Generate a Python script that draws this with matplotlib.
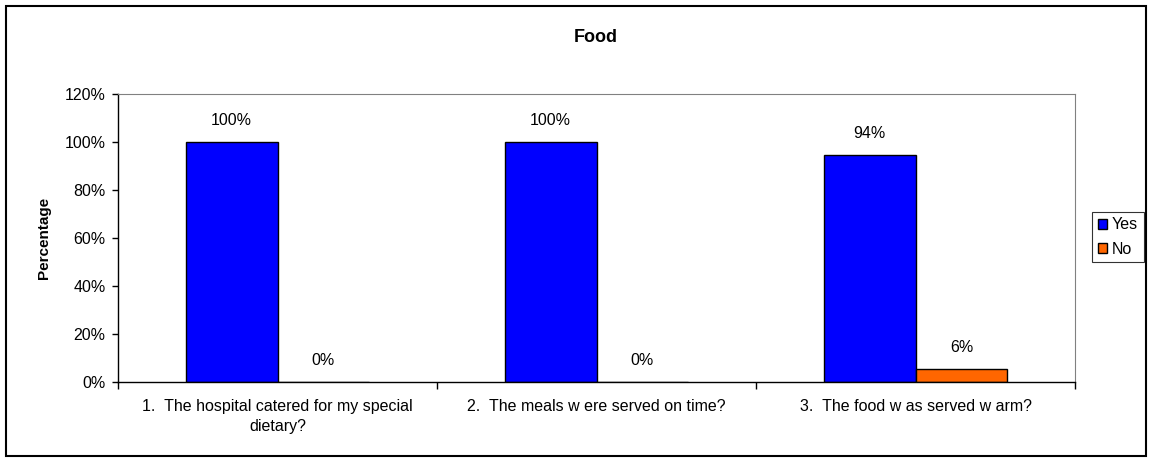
import numpy as np
import matplotlib
matplotlib.use("Agg")
import matplotlib.pyplot as plt
from matplotlib.patches import Rectangle
from matplotlib.ticker import FuncFormatter, MultipleLocator

# data
categories = [
    "1.  The hospital catered for my special\ndietary?",
    "2.  The meals w ere served on time?",
    "3.  The food w as served w arm?",
]
yes_vals = [100, 100, 94.4]
no_vals = [0, 0, 5.6]
series_names = ["Yes", "No"]

plt.rcParams["font.family"] = ["Liberation Sans", "DejaVu Sans"]
FS = 11.5

W, H = 1152, 462
fig = plt.figure(figsize=(W / 100, H / 100), dpi=100)
ax = fig.add_axes([118 / W, 1 - 382 / H, (1075 - 118) / W, (382 - 94) / H])

x = np.arange(len(categories))
bw = 0.288
b1 = ax.bar(x - bw / 2, yes_vals, bw, color="#0000FF", edgecolor="black", linewidth=1, label=series_names[0])
b2 = ax.bar(x + bw / 2, no_vals, bw, color="#FF6600", edgecolor="black", linewidth=1, label=series_names[1])

for bars, vals in ((b1, yes_vals), (b2, no_vals)):
    for rect, v in zip(bars, vals):
        ax.annotate(f"{round(v)}%", (rect.get_x() + rect.get_width() / 2, rect.get_height()),
                    xytext=(0, 15.5), textcoords="offset points", ha="center", va="center", fontsize=FS)

ax.set_xlim(-0.5, len(categories) - 0.5)
ax.set_ylim(0, 120)
ax.yaxis.set_major_locator(MultipleLocator(20))
ax.yaxis.set_major_formatter(FuncFormatter(lambda v, p: f"{int(v)}%"))
ax.tick_params(axis="y", labelsize=FS, length=4, width=1, direction="out", pad=5)

# category boundary ticks, labels in between
ax.set_xticks(np.arange(-0.5, len(categories)), minor=False)
ax.set_xticklabels([])
ax.set_xticks(x, minor=True)
ax.set_xticklabels(categories, minor=True, fontsize=FS, linespacing=1.45)
ax.tick_params(axis="x", which="major", length=5, width=1, direction="out")
ax.tick_params(axis="x", which="minor", length=0, pad=12)

for s in ("top", "right"):
    ax.spines[s].set_color("#808080")
for s in ("left", "bottom"):
    ax.spines[s].set_color("black")
    ax.spines[s].set_linewidth(1)

ax.set_ylabel("Percentage", fontsize=11, fontweight="bold", labelpad=10)
fig.text(596 / W, 1 - 38 / H, "Food", ha="center", va="center", fontsize=13, fontweight="bold")

leg = fig.legend(handles=[b1, b2], loc="center left", bbox_to_anchor=(1092 / W, 1 - 237 / H),
                 fontsize=FS, frameon=True, fancybox=False, handlelength=0.6, handleheight=0.6,
                 handletextpad=0.3, borderpad=0.35, labelspacing=0.6, borderaxespad=0)
leg.get_frame().set_edgecolor("black")
leg.get_frame().set_linewidth(0.8)

fig.add_artist(Rectangle((6 / W, 6 / H), (1146 - 6) / W, (456 - 6) / H, transform=fig.transFigure,
                         fill=False, edgecolor="black", linewidth=1.5))

fig.savefig("out.png", dpi=100)
